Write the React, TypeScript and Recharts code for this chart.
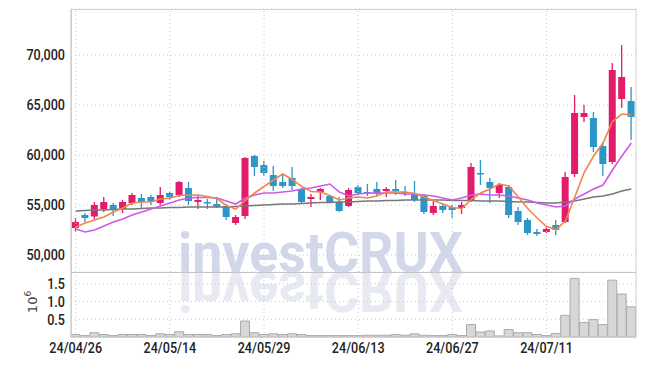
import { ComposedChart, Bar, Line, XAxis, YAxis, CartesianGrid, ReferenceLine } from 'recharts';

const dates = [
  '24/04/26', '24/04/29', '24/04/30', '24/05/02', '24/05/03', '24/05/07', '24/05/08', '24/05/09', '24/05/10', '24/05/13',
  '24/05/14', '24/05/16', '24/05/17', '24/05/20', '24/05/21', '24/05/22', '24/05/23', '24/05/24', '24/05/27', '24/05/28',
  '24/05/29', '24/05/30', '24/05/31', '24/06/03', '24/06/04', '24/06/05', '24/06/07', '24/06/10', '24/06/11', '24/06/12',
  '24/06/13', '24/06/14', '24/06/17', '24/06/18', '24/06/19', '24/06/20', '24/06/21', '24/06/24', '24/06/25', '24/06/26',
  '24/06/27', '24/06/28', '24/07/01', '24/07/02', '24/07/03', '24/07/04', '24/07/05', '24/07/08', '24/07/09', '24/07/10',
  '24/07/11', '24/07/12', '24/07/15', '24/07/16', '24/07/17', '24/07/18', '24/07/19', '24/07/22', '24/07/23', '24/07/24',
];

const opens = [
  52700, 54000, 53850, 54600, 55000, 54600, 55200, 55700, 55800, 55200,
  56200, 56000, 56700, 55300, 55300, 55100, 54900, 53200, 53900, 59900,
  59000, 58000, 57300, 57700, 56600, 55600, 56300, 55900, 55300, 54900,
  56800, 56300, 56600, 56400, 56600, 56300, 56100, 55900, 54200, 54900,
  54800, 54700, 55500, 58200, 57300, 56200, 56800, 54400, 53500, 52300,
  52300, 53000, 53300, 58100, 63800, 63700, 60900, 59300, 65600, 65400,
];
const highs = [
  53700, 54200, 55300, 55800, 55200, 55500, 56200, 56100, 56000, 56800,
  56300, 57400, 57300, 55900, 55600, 55800, 55100, 54000, 59800, 60000,
  59400, 58900, 58000, 58800, 56700, 56100, 56700, 55900, 55800, 56700,
  57000, 57100, 57300, 56800, 57500, 56900, 57400, 56100, 55400, 55200,
  55000, 55300, 59200, 59500, 57700, 57200, 57000, 54800, 53700, 52600,
  52800, 53500, 58300, 66000, 65000, 64300, 61300, 69200, 71000, 66800,
];
const lows = [
  52300, 53300, 53600, 54300, 53900, 54200, 55000, 54600, 55000, 55000,
  55500, 55800, 55000, 54600, 54600, 54700, 53500, 53000, 53600, 57900,
  57900, 56400, 56700, 56500, 55200, 54800, 55500, 55200, 54300, 54800,
  56000, 55900, 55900, 55800, 56000, 55900, 55300, 54100, 54000, 54200,
  53700, 54100, 55300, 57000, 55200, 55700, 53700, 53000, 52000, 51900,
  52200, 52000, 53200, 57800, 63300, 60300, 57900, 59100, 64700, 61500,
];
const closes = [
  53300, 53700, 55000, 55300, 54500, 55300, 56000, 55300, 55400, 56000,
  55800, 57300, 55400, 55500, 55200, 54800, 53800, 53800, 59700, 58800,
  58200, 56900, 56900, 56900, 55300, 55800, 56600, 55300, 54400, 56500,
  56200, 56200, 56100, 56600, 56400, 56200, 55500, 54300, 54900, 54500,
  54500, 55000, 58800, 58100, 56700, 57000, 54000, 53300, 52200, 52100,
  52600, 52500, 57800, 64200, 64200, 60800, 59100, 68500, 67800, 63800,
];
const ma5 = [
  52800, 53200, 53500, 53800, 54300, 54700, 55200, 55300, 55300, 55600,
  55700, 55950, 55980, 56000, 55850, 55650, 54950, 54600, 55450, 56200,
  56850, 57500, 58100, 57550, 56850, 56350, 56300, 55950, 55500, 55700,
  55800, 55700, 55900, 56300, 56300, 56300, 56150, 55800, 55450, 55100,
  54750, 54650, 55550, 56200, 56600, 57100, 56900, 55800, 54650, 53700,
  52850, 52550, 53400, 55800, 58250, 59900, 61200, 63350, 64100, 64000,
];
const ma20 = [
  52600, 52300, 52500, 52900, 53300, 53600, 54000, 54300, 54600, 54900,
  55200, 55500, 55700, 55750, 55750, 55700, 55400, 55100, 55700, 56000,
  56200, 56200, 56300, 56400, 56600, 56700, 56900, 57100, 56300, 55900,
  56100, 56200, 56200, 56200, 56200, 56100, 56100, 56000, 55900, 55700,
  55500, 55700, 56000, 56100, 56000, 56000, 55900, 55700, 55500, 55200,
  55000, 54800, 54900, 55600, 56100, 56600, 57000, 58500, 59900, 61200,
];
const ma60 = [
  54400, 54450, 54500, 54500, 54550, 54600, 54600, 54650, 54700, 54700,
  54750, 54750, 54800, 54800, 54800, 54800, 54800, 54850, 54900, 54950,
  55000, 55050, 55100, 55100, 55150, 55200, 55250, 55250, 55300, 55300,
  55350, 55400, 55400, 55450, 55450, 55500, 55500, 55500, 55500, 55500,
  55450, 55450, 55450, 55400, 55400, 55400, 55350, 55300, 55300, 55250,
  55200, 55200, 55300, 55400, 55600, 55800, 55900, 56100, 56400, 56600,
];
// volume in millions of shares
const volumes = [
  0.07, 0.04, 0.12, 0.07, 0.04, 0.07, 0.07, 0.07, 0.04, 0.09,
  0.07, 0.15, 0.07, 0.07, 0.07, 0.04, 0.07, 0.09, 0.45, 0.12,
  0.07, 0.09, 0.07, 0.09, 0.07, 0.04, 0.04, 0.04, 0.04, 0.04,
  0.04, 0.05, 0.05, 0.05, 0.07, 0.05, 0.09, 0.05, 0.04, 0.04,
  0.07, 0.04, 0.35, 0.14, 0.17, 0.03, 0.21, 0.12, 0.12, 0.07,
  0.04, 0.1, 0.61, 1.65, 0.41, 0.49, 0.35, 1.6, 1.21, 0.85,
];

const dateTicks = ['24/04/26', '24/05/14', '24/05/29', '24/06/13', '24/06/27', '24/07/11'];
const priceTicks = [50000, 55000, 60000, 65000, 70000];
const volumeTicks = [0.5, 1.0, 1.5];

const data = dates.map((date, i) => ({
  date,
  open: opens[i],
  high: highs[i],
  low: lows[i],
  close: closes[i],
  ma5: ma5[i],
  ma20: ma20[i],
  ma60: ma60[i],
  volume: volumes[i],
}));

const UP = '#e31b6b';
const DOWN = '#2c96c8';
const GRID = '#c6c8dc';
const FONT = 'Roboto, "DejaVu Sans Condensed", sans-serif';

const fmtPrice = (v: number) => v.toLocaleString('en-US');
const fmtVolume = (v: number) => v.toFixed(1);

// condensed, medium-weight tick text
const YTick = (props: any) => {
  const { x, y, payload, fmt } = props;
  return (
    <text transform={`translate(${x},${y}) scale(0.84,1)`} textAnchor="end" dy="0.36em"
      fontSize={15} fontWeight={500} fontFamily={FONT} fill="#222">{fmt(payload.value)}</text>
  );
};

const XTick = (props: any) => {
  const { x, y, payload } = props;
  return (
    <text transform={`translate(${x},${y}) scale(0.84,1)`} textAnchor="middle" dy="0.72em"
      fontSize={15} fontWeight={500} fontFamily={FONT} fill="#222">{payload.value}</text>
  );
};

const Candle = (props: any) => {
  const { x, y, width, height, payload } = props;
  const { open, close, high, low } = payload;
  const color = close >= open ? UP : DOWN;
  const ratio = high === low ? 0 : height / (high - low);
  const bodyTop = y + (high - Math.max(open, close)) * ratio;
  const bodyH = Math.max(Math.abs(open - close) * ratio, 1.5);
  const cx = x + width / 2;
  return (
    <g>
      <line x1={cx} x2={cx} y1={y} y2={y + height} stroke={color} strokeWidth={1.3} />
      <rect x={x} y={bodyTop} width={width} height={bodyH} fill={color} />
    </g>
  );
};

export default function App() {
  return (
    <div style={{ position: 'absolute', left: 0, top: 0, width: 645, height: 366, background: '#fff' }}>
      <svg width={645} height={366} style={{ position: 'absolute', left: 0, top: 0 }}>
        <text x={178} y={272} textLength={285} lengthAdjust="spacingAndGlyphs" fontSize={56}
          fontWeight="bold" fontFamily={FONT} fill="#d2d7ea">investCRUX</text>
        <g transform="translate(0,544) scale(1,-1)">
          <text x={178} y={272} textLength={285} lengthAdjust="spacingAndGlyphs" fontSize={56}
            fontWeight="bold" fontFamily={FONT} fill="#e8eaf3">investCRUX</text>
        </g>
      </svg>

      <div style={{ position: 'absolute', left: 0, top: 0 }}>
        <ComposedChart width={645} height={272} data={data} margin={{ top: 9, right: 9, bottom: 0, left: 0 }}>
          <CartesianGrid vertical={false} stroke={GRID} strokeDasharray="1 3" />
          {dateTicks.map((d) => (
            <ReferenceLine key={d} x={d} stroke={GRID} strokeDasharray="1 3" />
          ))}
          <XAxis dataKey="date" hide />
          <YAxis
            domain={[48300, 74600]}
            ticks={priceTicks}
            interval={0}
            allowDataOverflow
            width={71}
            tickLine={false}
            tickSize={0}
            tickMargin={6}
            axisLine={{ stroke: '#bbb' }}
            tick={<YTick fmt={fmtPrice} />}
          />
          <Bar
            dataKey={(d: any) => [d.low, d.high]}
            shape={<Candle />}
            barSize={7}
            isAnimationActive={false}
          />
          <Line dataKey="ma60" stroke="#777" strokeWidth={1.7} dot={false} isAnimationActive={false} />
          <Line dataKey="ma20" stroke="#cd5ae8" strokeWidth={1.6} dot={false} isAnimationActive={false} />
          <Line dataKey="ma5" stroke="#ee874c" strokeWidth={1.6} dot={false} isAnimationActive={false} />
        </ComposedChart>
      </div>

      <div style={{ position: 'absolute', left: 0, top: 272 }}>
        <ComposedChart width={645} height={94} data={data} margin={{ top: 0, right: 9, bottom: 0, left: 0 }} barCategoryGap={0}>
          <CartesianGrid vertical={false} stroke={GRID} strokeDasharray="1 3" />
          {dateTicks.map((d) => (
            <ReferenceLine key={d} x={d} stroke={GRID} strokeDasharray="1 3" />
          ))}
          <XAxis
            dataKey="date"
            ticks={dateTicks}
            interval={0}
            height={29}
            tickLine={false}
            tickSize={0}
            tickMargin={5}
            axisLine={{ stroke: '#bbb' }}
            tick={<XTick />}
          />
          <YAxis
            domain={[0, 1.83]}
            ticks={volumeTicks}
            interval={0}
            allowDataOverflow
            width={71}
            tickLine={false}
            tickSize={0}
            tickMargin={6}
            axisLine={{ stroke: '#bbb' }}
            tick={<YTick fmt={fmtVolume} />}
          />
          <Bar dataKey="volume" fill="#d7d7d7" stroke="#ababab" strokeWidth={1} isAnimationActive={false} />
        </ComposedChart>
      </div>

      <svg width={645} height={366} style={{ position: 'absolute', left: 0, top: 0, pointerEvents: 'none' }}>
        <rect x={71.5} y={9.5} width={564.5} height={327.5} fill="none" stroke="#d0d0d0" />
        <line x1={71} x2={636} y1={272.5} y2={272.5} stroke="#c4c4c4" />
        <text transform="translate(37,302) rotate(-90)" textAnchor="middle" fontSize={13}
          fontFamily="DejaVu Sans, sans-serif" fill="#444">
          10<tspan dy={-6} fontSize={9}>6</tspan>
        </text>
      </svg>
    </div>
  );
}
